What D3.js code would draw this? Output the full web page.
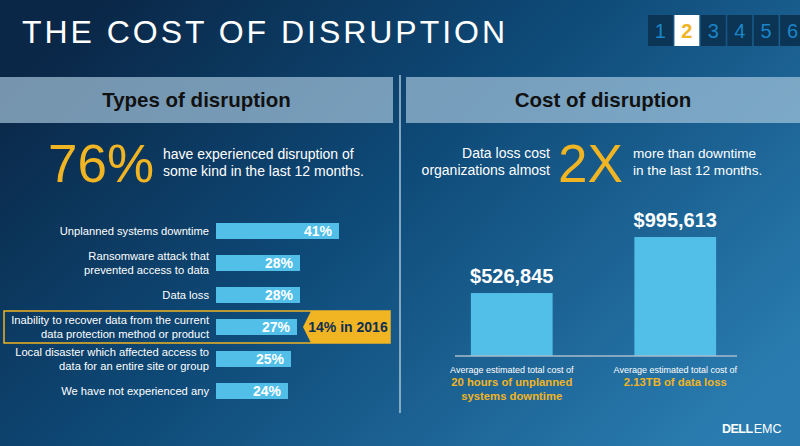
<!DOCTYPE html>
<html>
<head>
<meta charset="utf-8">
<script src="https://cdn.jsdelivr.net/npm/d3@7"></script>
<style>
  html, body { margin: 0; padding: 0; background: #0b2c4d; }
  svg { display: block; font-family: "Liberation Sans", Arial, sans-serif; }
</style>
</head>
<body>
<div id="chart"></div>
<script>
// ---------Data----------
const disruptionTypes = [
  ["Unplanned systems downtime"],
  ["Ransomware attack that", "prevented access to data"],
  ["Data loss"],
  ["Inability to recover data from the current", "data protection method or product"],
  ["Local disaster which affected access to", "data for an entire site or group"],
  ["We have not experienced any"]
];
const disruptionPct = [41, 28, 28, 27, 25, 24];
const highlightIndex = 3;
const highlightNote = "14% in 2016";

const costLabels = ["Downtime", "Data loss"];
const costValues = [526845, 995613];
const costCaptions = [
  ["20 hours of unplanned", "systems downtime"],
  ["2.13TB of data loss"]
];
const pageNumbers = ["1", "2", "3", "4", "5", "6"];

// Dimensions
const width = 800;
const height = 446;
const yellow = "#f1b422";
const barBlue = "#52bfe8";

const svg = d3.select("#chart")
  .append("svg")
  .attr("width", width)
  .attr("height", height);

// Background gradient
const defs = svg.append("defs");
const bg = defs.append("linearGradient")
  .attr("id", "bg")
  .attr("x1", "0%").attr("y1", "20%")
  .attr("x2", "100%").attr("y2", "80%");
bg.append("stop").attr("offset", "0%").attr("stop-color", "#0a2747");
bg.append("stop").attr("offset", "45%").attr("stop-color", "#0e4a78");
bg.append("stop").attr("offset", "100%").attr("stop-color", "#2a7cb0");

svg.append("rect")
  .attr("width", width)
  .attr("height", height)
  .attr("fill", "url(#bg)");

// Title
svg.append("text")
  .attr("x", 22)
  .attr("y", 43)
  .attr("textLength", 483)
  .attr("lengthAdjust", "spacing")
  .style("font-size", "32px")
  .style("fill", "#fff")
  .text("THE COST OF DISRUPTION");

// Page numbers
const pageX = d3.scaleBand()
  .domain(pageNumbers)
  .range([648, 805])
  .paddingInner(0.06);

const pages = svg.append("g");
pages.selectAll("rect")
  .data(pageNumbers)
  .enter()
  .append("rect")
  .attr("x", d => pageX(d))
  .attr("y", 15)
  .attr("width", pageX.bandwidth())
  .attr("height", 31)
  .attr("fill", d => d === "2" ? "#ffffff" : "#0c3454");
pages.selectAll("text")
  .data(pageNumbers)
  .enter()
  .append("text")
  .attr("x", d => pageX(d) + pageX.bandwidth() / 2)
  .attr("y", 38)
  .attr("text-anchor", "middle")
  .style("font-size", "20px")
  .style("font-weight", d => d === "2" ? "bold" : "normal")
  .style("fill", d => d === "2" ? yellow : "#1a86c9")
  .text(d => d);

// Section headers
const headers = [
  { x: 0, w: 393, label: "Types of disruption" },
  { x: 406, w: 394, label: "Cost of disruption" }
];
svg.selectAll(".hdr")
  .data(headers)
  .enter()
  .append("rect")
  .attr("class", "hdr")
  .attr("x", d => d.x)
  .attr("y", 77)
  .attr("width", d => d.w)
  .attr("height", 46)
  .attr("fill", "#a9c8de")
  .attr("fill-opacity", 0.68);
svg.selectAll(".hdrText")
  .data(headers)
  .enter()
  .append("text")
  .attr("class", "hdrText")
  .attr("x", d => d.x + d.w / 2)
  .attr("y", 107)
  .attr("text-anchor", "middle")
  .style("font-size", "20.5px")
  .style("font-weight", "bold")
  .style("fill", "#111")
  .text(d => d.label);

// Divider
svg.append("line")
  .attr("x1", 400).attr("x2", 400)
  .attr("y1", 75).attr("y2", 413)
  .attr("stroke", "#a9c4d8")
  .attr("stroke-width", 1.5);

// ---------Types of disruption----------
svg.append("text")
  .attr("x", 48)
  .attr("y", 182)
  .style("font-size", "53px")
  .style("fill", yellow)
  .text("76%");

const intro = svg.append("text")
  .style("font-size", "14px")
  .style("fill", "#fff");
intro.append("tspan").attr("x", 163).attr("y", 159).text("have experienced disruption of");
intro.append("tspan").attr("x", 163).attr("y", 176).text("some kind in the last 12 months.");

const xScale = d3.scaleLinear()
  .domain([0, 50])
  .range([216, 366]);

const yScale = d3.scaleBand()
  .domain(d3.range(disruptionPct.length))
  .range([215, 407])
  .paddingInner(0.5)
  .paddingOuter(0.25);

const bandMid = i => yScale(i) + yScale.bandwidth() / 2;

// Highlight frame
const hy = bandMid(highlightIndex);
svg.append("rect")
  .attr("x", 4)
  .attr("y", hy - 16)
  .attr("width", 386)
  .attr("height", 32)
  .attr("fill", "none")
  .attr("stroke", yellow)
  .attr("stroke-width", 1.5);
svg.append("path")
  .attr("d", `M303,${hy} L311,${hy - 16} L390,${hy - 16} L390,${hy + 16} L311,${hy + 16} Z`)
  .attr("fill", yellow);
svg.append("text")
  .attr("x", 348)
  .attr("y", hy + 5)
  .attr("text-anchor", "middle")
  .style("font-size", "14px")
  .style("font-weight", "bold")
  .style("fill", "#0d2f52")
  .text(highlightNote);

// Bars
svg.selectAll(".bar")
  .data(disruptionPct)
  .enter()
  .append("rect")
  .attr("class", "bar")
  .attr("x", xScale(0))
  .attr("y", (d, i) => yScale(i))
  .attr("width", d => xScale(d) - xScale(0))
  .attr("height", yScale.bandwidth())
  .attr("fill", barBlue);

svg.selectAll(".barVal")
  .data(disruptionPct)
  .enter()
  .append("text")
  .attr("class", "barVal")
  .attr("x", d => xScale(d) - 7)
  .attr("y", (d, i) => bandMid(i) + 5)
  .attr("text-anchor", "end")
  .style("font-size", "14px")
  .style("font-weight", "bold")
  .style("fill", "#fff")
  .text(d => d + "%");

// Category labels
const labels = svg.selectAll(".cat")
  .data(disruptionTypes)
  .enter()
  .append("text")
  .attr("class", "cat")
  .attr("text-anchor", "end")
  .style("font-size", "11.2px")
  .style("fill", "#fff");
labels.each(function (lines, i) {
  const t = d3.select(this);
  const start = bandMid(i) + 4 - (lines.length - 1) * 7;
  lines.forEach((line, j) => {
    t.append("tspan")
      .attr("x", 209)
      .attr("y", start + j * 14)
      .text(line);
  });
});

// ---------Cost of disruption----------
const left2x = svg.append("text")
  .attr("text-anchor", "end")
  .style("font-size", "14px")
  .style("fill", "#fff");
left2x.append("tspan").attr("x", 550).attr("y", 158).text("Data loss cost");
left2x.append("tspan").attr("x", 550).attr("y", 175).text("organizations almost");

svg.append("text")
  .attr("x", 558)
  .attr("y", 182)
  .style("font-size", "53px")
  .style("fill", yellow)
  .text("2X");

const right2x = svg.append("text")
  .style("font-size", "13.6px")
  .style("fill", "#fff");
right2x.append("tspan").attr("x", 633).attr("y", 158).text("more than downtime");
right2x.append("tspan").attr("x", 633).attr("y", 175).text("in the last 12 months.");

const xCost = d3.scaleBand()
  .domain(costLabels)
  .range([430, 757])
  .paddingInner(0.5)
  .paddingOuter(0.25);

const yCost = d3.scaleLinear()
  .domain([0, 1000000])
  .range([356, 236.5]);

svg.selectAll(".costBar")
  .data(costValues)
  .enter()
  .append("rect")
  .attr("class", "costBar")
  .attr("x", (d, i) => xCost(costLabels[i]))
  .attr("y", d => yCost(d))
  .attr("width", xCost.bandwidth())
  .attr("height", d => yCost(0) - yCost(d))
  .attr("fill", barBlue);

svg.append("line")
  .attr("x1", 455).attr("x2", 737)
  .attr("y1", yCost(0)).attr("y2", yCost(0))
  .attr("stroke", "#a8bccb")
  .attr("stroke-width", 1.5);

const mid = i => xCost(costLabels[i]) + xCost.bandwidth() / 2;

svg.selectAll(".costVal")
  .data(costValues)
  .enter()
  .append("text")
  .attr("class", "costVal")
  .attr("x", (d, i) => mid(i))
  .attr("y", d => yCost(d) - 10)
  .attr("text-anchor", "middle")
  .style("font-size", "20px")
  .style("font-weight", "bold")
  .style("fill", "#fff")
  .text(d => "$" + d3.format(",")(d));

costCaptions.forEach((lines, i) => {
  svg.append("text")
    .attr("x", mid(i))
    .attr("y", 373)
    .attr("text-anchor", "middle")
    .style("font-size", "9px")
    .style("fill", "#fff")
    .text("Average estimated total cost of");
  lines.forEach((line, j) => {
    svg.append("text")
      .attr("x", mid(i))
      .attr("y", 386 + j * 13.5)
      .attr("text-anchor", "middle")
      .style("font-size", "11.3px")
      .style("font-weight", "bold")
      .style("fill", yellow)
      .text(line);
  });
});

// Logo
const logo = svg.append("text")
  .attr("x", 722)
  .attr("y", 433)
  .style("font-size", "12.5px")
  .style("fill", "#fff");
logo.append("tspan").style("font-weight", "bold").attr("letter-spacing", "-0.5").text("DELL");
logo.append("tspan").attr("dx", 1).text("EMC");
</script>
</body>
</html>
